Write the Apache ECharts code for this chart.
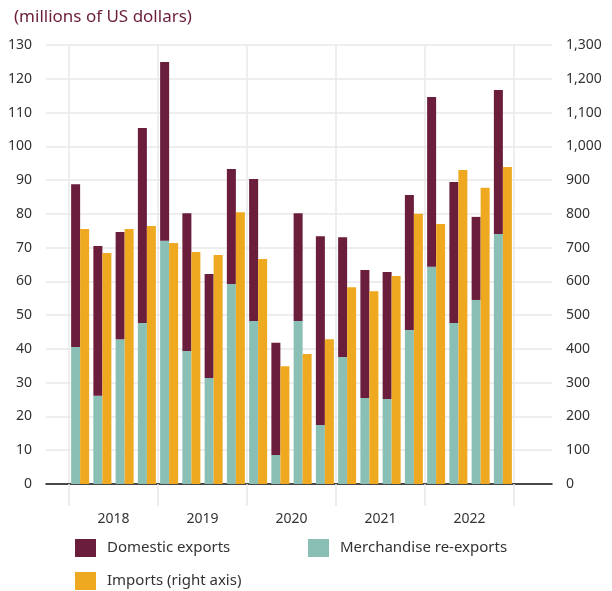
<!DOCTYPE html>
<html>
<head>
<meta charset="utf-8">
<script src="https://cdn.jsdelivr.net/npm/echarts@6/dist/echarts.min.js"></script>
<style>
  html, body { margin: 0; padding: 0; background: #fff; }
  #chart { width: 612px; height: 591px; }
</style>
</head>
<body>
<div id="chart"></div>
<script>
// Quarterly trade, 2018 Q1 – 2022 Q4 (millions of US dollars)
const years = ['2018', '2019', '2020', '2021', '2022'];
const quarters = [
  '2018 Q1', '2018 Q2', '2018 Q3', '2018 Q4',
  '2019 Q1', '2019 Q2', '2019 Q3', '2019 Q4',
  '2020 Q1', '2020 Q2', '2020 Q3', '2020 Q4',
  '2021 Q1', '2021 Q2', '2021 Q3', '2021 Q4',
  '2022 Q1', '2022 Q2', '2022 Q3', '2022 Q4'
];
const reExports = [
  40.6, 26.1, 42.9, 47.7,
  72.0, 39.4, 31.4, 59.2,
  48.3, 8.6, 48.3, 17.5,
  37.6, 25.5, 25.2, 45.6,
  64.3, 47.7, 54.5, 74.0
];
const domesticExports = [
  48.2, 44.4, 31.7, 57.7,
  53.0, 40.8, 30.8, 34.1,
  42.0, 33.2, 31.9, 55.9,
  35.5, 37.9, 37.6, 40.0,
  50.3, 41.7, 24.6, 42.7
];
const imports = [
  755, 684, 755, 764,
  714, 687, 678, 805,
  666, 349, 385, 429,
  583, 571, 616, 800,
  770, 930, 877, 939
];

const MAROON = '#6B1D3C';
const TEAL = '#8ABFB5';
const ORANGE = '#EEA920';
const GRID_LINE = '#e8e8e8';
const TEXT = '#333333';
const FONT = 'Noto Sans';

const chart = echarts.init(document.getElementById('chart'), null, { renderer: 'canvas' });

const legendBase = {
  icon: 'rect',
  itemWidth: 21,
  itemHeight: 18,
  padding: 0,
  selectedMode: false,
  textStyle: { color: TEXT, fontSize: 15, fontFamily: FONT, padding: [0, 0, 0, 6] }
};

chart.setOption({
  animation: false,
  backgroundColor: '#ffffff',
  textStyle: { fontFamily: FONT },
  title: {
    text: '(millions of US dollars)',
    left: 9,
    top: 4,
    textStyle: { color: MAROON, fontSize: 17, fontWeight: 'normal', fontFamily: FONT }
  },
  legend: [
    Object.assign({ left: 75, top: 539, data: ['Domestic exports'] }, legendBase),
    Object.assign({ left: 308, top: 539, data: ['Merchandise re-exports'] }, legendBase),
    Object.assign({ left: 75, top: 572, data: ['Imports (right axis)'] }, legendBase)
  ],
  grid: [
    // frame holding the value axes and horizontal gridlines
    { left: 46, right: 60, top: 45, bottom: 107 },
    // inner band holding the quarterly bars
    { left: 69, right: 98, top: 45, bottom: 107 }
  ],
  xAxis: [
    {
      gridIndex: 0, type: 'value', min: 0, max: 1,
      axisLine: { show: true, onZero: false, lineStyle: { color: '#111', width: 1.5 } },
      axisTick: { show: false }, axisLabel: { show: false }, splitLine: { show: false }
    },
    {
      gridIndex: 1, type: 'category', data: quarters, position: 'top', show: false
    },
    {
      gridIndex: 1, type: 'category', data: years, position: 'bottom',
      boundaryGap: true,
      axisLine: { show: false },
      axisTick: { show: true, interval: 0, length: 22, lineStyle: { color: GRID_LINE, width: 1.5 } },
      axisLabel: { interval: 0, margin: 28, color: TEXT, fontSize: 14, fontFamily: FONT },
      splitLine: { show: true, interval: 0, lineStyle: { color: GRID_LINE, width: 1.5 } }
    }
  ],
  yAxis: [
    {
      gridIndex: 0, type: 'value', position: 'left', min: 0, max: 130, interval: 10,
      axisLine: { show: false }, axisTick: { show: false },
      axisLabel: { margin: 14, color: TEXT, fontSize: 14, fontFamily: FONT },
      splitLine: { show: true, lineStyle: { color: GRID_LINE, width: 1.5 } }
    },
    {
      gridIndex: 0, type: 'value', position: 'right', min: 0, max: 1300, interval: 100,
      axisLine: { show: false }, axisTick: { show: false },
      axisLabel: {
        margin: 14, color: TEXT, fontSize: 14, fontFamily: FONT,
        formatter: v => v.toLocaleString('en-US')
      },
      splitLine: { show: false }
    },
    { gridIndex: 1, type: 'value', position: 'left', min: 0, max: 130, show: false },
    { gridIndex: 1, type: 'value', position: 'right', min: 0, max: 1300, show: false }
  ],
  series: [
    {
      name: 'Merchandise re-exports', type: 'bar', stack: 'exports',
      xAxisIndex: 1, yAxisIndex: 2, data: reExports,
      barWidth: 9, barGap: '0%',
      itemStyle: { color: TEAL }
    },
    {
      name: 'Domestic exports', type: 'bar', stack: 'exports',
      xAxisIndex: 1, yAxisIndex: 2, data: domesticExports,
      barWidth: 9, barGap: '0%',
      itemStyle: { color: MAROON }
    },
    {
      name: 'Imports (right axis)', type: 'bar',
      xAxisIndex: 1, yAxisIndex: 3, data: imports,
      barWidth: 9, barGap: '0%',
      itemStyle: { color: ORANGE }
    }
  ]
});
</script>
</body>
</html>
